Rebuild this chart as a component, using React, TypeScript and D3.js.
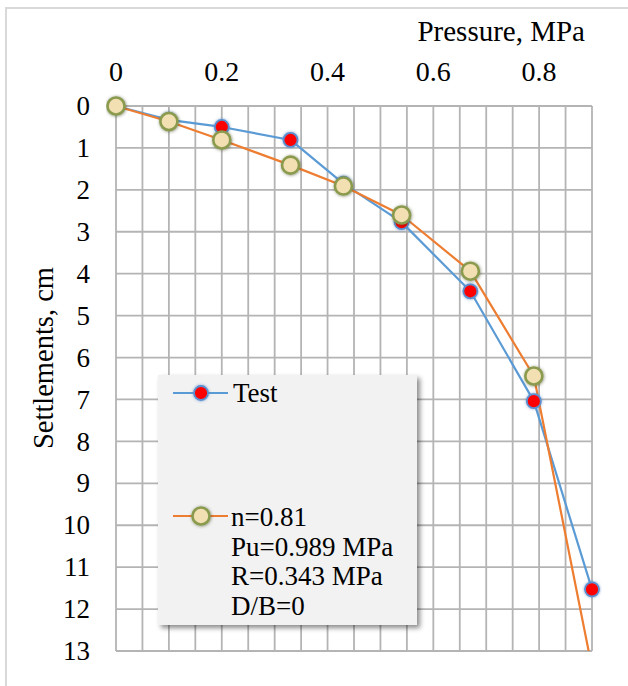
import React from "react";
import * as d3 from "d3";

const pressureTest = [0, 0.1, 0.2, 0.33, 0.43, 0.54, 0.67, 0.79, 0.9];
const settlementTest = [0, 0.33, 0.5, 0.81, 1.85, 2.77, 4.42, 7.04, 11.53];
const pressureModel = [0, 0.1, 0.2, 0.33, 0.43, 0.54, 0.67, 0.79, 0.9];
const settlementModel = [0, 0.37, 0.81, 1.41, 1.91, 2.6, 3.94, 6.44, 13.4];
const xTickLabels = [0, 0.2, 0.4, 0.6, 0.8];
const yTickLabels = [0, 1, 2, 3, 4, 5, 6, 7, 8, 9, 10, 11, 12, 13];
const legendTest = ["Test"];
const legendModel = ["n=0.81", "Pu=0.989 MPa", "R=0.343 MPa", "D/B=0"];

const W = 628;
const H = 686;
const left = 116;
const right = 592;
const top = 106;
const bottom = 651;
const FONT = "'Liberation Serif', 'Times New Roman', serif";

export default function App() {
  const x = d3.scaleLinear().domain([0, 0.9]).range([left, right]);
  const y = d3.scaleLinear().domain([0, 13]).range([top, bottom]);
  const xMinor = d3.range(0, 0.9001, 0.05);
  const yGrid = d3.range(0, 13.001, 1);

  const testPts = pressureTest.map((p, i) => [p, settlementTest[i]] as [number, number]);
  const modelPts = pressureModel.map((p, i) => [p, settlementModel[i]] as [number, number]);
  const line = d3
    .line<[number, number]>()
    .x((d) => x(d[0]))
    .y((d) => y(d[1]));

  const inDomain = (d: [number, number]) => d[1] <= 13 && d[0] <= 0.9;

  const lgX = 158;
  const lgY = 375;
  const lgW = 259;
  const lgH = 250;

  const redMarker = (cx: number, cy: number, key: any) => (
    <g key={key} filter="url(#glowBlue)">
      <circle cx={cx} cy={cy} r={7} fill="#ff0000" stroke="#5b8fd0" strokeWidth={1.8} />
    </g>
  );
  const greenMarker = (cx: number, cy: number, key: any) => (
    <g key={key} filter="url(#shadowDark)">
      <circle cx={cx} cy={cy} r={8.5} fill="#f2dfb2" stroke="#8b9b4e" strokeWidth={2.6} />
    </g>
  );

  return (
    <svg
      width={W}
      height={H}
      style={{ position: "absolute", left: 0, top: 0, background: "#ffffff" }}
    >
      <defs>
        <filter id="glowBlue" x="-100%" y="-100%" width="300%" height="300%">
          <feDropShadow dx="0" dy="0" stdDeviation="1.6" floodColor="#4a7fc0" floodOpacity="0.7" />
        </filter>
        <filter id="shadowDark" x="-100%" y="-100%" width="300%" height="300%">
          <feDropShadow dx="0.5" dy="0.5" stdDeviation="1.4" floodColor="#3a4020" floodOpacity="0.6" />
        </filter>
        <filter id="boxShadow" x="-10%" y="-10%" width="125%" height="125%">
          <feDropShadow dx="3" dy="3" stdDeviation="2.5" floodColor="#000" floodOpacity="0.45" />
        </filter>
        <clipPath id="plotClip">
          <rect x={left - 10} y={top - 12} width={right - left + 20} height={bottom - top + 12} />
        </clipPath>
      </defs>

      <rect x={6} y={8} width={W + 20} height={H + 20} fill="#ffffff" stroke="#d9d9d9" strokeWidth={2} />

      {/* grid */}
      <g stroke="#b4b4b4" strokeWidth={1.8}>
        {xMinor.map((v, i) => (
          <line key={"vx" + i} x1={x(v)} x2={x(v)} y1={top} y2={bottom} />
        ))}
        {yGrid.map((v, i) => (
          <line key={"hy" + i} x1={left} x2={right} y1={y(v)} y2={y(v)} />
        ))}
      </g>

      {/* x tick labels */}
      <g fontFamily={FONT} fontSize={28} fill="#000" textAnchor="middle">
        {xTickLabels.map((v) => (
          <text key={"xt" + v} x={x(v)} y={81}>
            {String(v)}
          </text>
        ))}
      </g>
      <text x={585} y={41} fontFamily={FONT} fontSize={29} textAnchor="end" fill="#000">
        Pressure, MPa
      </text>

      {/* y tick labels */}
      <g fontFamily={FONT} fontSize={27} fill="#000" textAnchor="end">
        {yTickLabels.map((v) => (
          <text key={"yt" + v} x={90} y={y(v)} dy="0.34em">
            {String(v)}
          </text>
        ))}
      </g>
      <text
        transform={`translate(53, ${358}) rotate(-90)`}
        fontFamily={FONT}
        fontSize={28.5}
        textAnchor="middle"
        fill="#000"
      >
        Settlements, cm
      </text>

      {/* series */}
      <g clipPath="url(#plotClip)">
        <path d={line(testPts) || ""} fill="none" stroke="#5b9bd5" strokeWidth={2.2} strokeLinejoin="round" />
        <path d={line(modelPts) || ""} fill="none" stroke="#ed7d31" strokeWidth={2.2} strokeLinejoin="round" />
        {testPts.filter(inDomain).map((d, i) => redMarker(x(d[0]), y(d[1]), "r" + i))}
        {modelPts.filter(inDomain).map((d, i) => greenMarker(x(d[0]), y(d[1]), "g" + i))}
      </g>

      {/* legend */}
      <rect x={lgX} y={lgY} width={lgW} height={lgH} fill="#f2f2f2" filter="url(#boxShadow)" />
      <line x1={173} x2={228} y1={393} y2={393} stroke="#5b9bd5" strokeWidth={2.2} />
      {redMarker(201, 393, "lr")}
      <text x={233} y={402} fontFamily={FONT} fontSize={27} fill="#000">
        {legendTest[0]}
      </text>
      <line x1={173} x2={228} y1={516} y2={516} stroke="#ed7d31" strokeWidth={2.2} />
      {greenMarker(201, 516, "lg")}
      {legendModel.map((t, i) => (
        <text key={"lm" + i} x={231} y={526 + i * 29.5} fontFamily={FONT} fontSize={27} fill="#000">
          {t}
        </text>
      ))}
    </svg>
  );
}
